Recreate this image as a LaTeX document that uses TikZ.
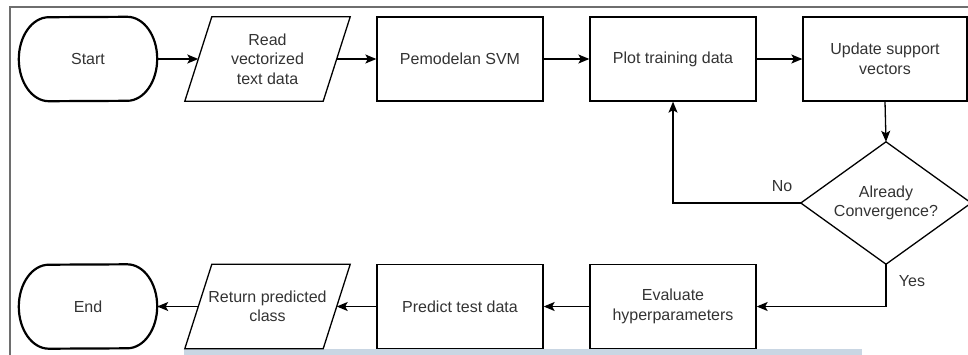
\documentclass[tikz,border=0pt]{standalone}
\usepackage{fontspec}
\setmainfont{Liberation Sans}
\usetikzlibrary{arrows.meta}
\definecolor{txt}{HTML}{333333}
\definecolor{framegray}{HTML}{6E6E6E}
\definecolor{stripblue}{HTML}{C9D6E3}
\newcommand\stadiumshape[1]{%
  \draw[termline] ([xshift=-30pt]#1.north east)
    arc[start angle=90,end angle=-90,x radius=30pt,y radius=42pt]
    -- ([xshift=30pt]#1.south west)
    arc[start angle=-90,end angle=-270,x radius=30pt,y radius=42pt] -- cycle;}
\newcommand\slantshape[1]{%
  \draw[shapeline] ([xshift=13.5pt]#1.north west) -- ([xshift=13.5pt]#1.north east)
    -- ([xshift=-13.5pt]#1.south east) -- ([xshift=-13.5pt]#1.south west) -- cycle;}
\begin{document}
\begin{tikzpicture}[x=1pt,y=-1pt,
  base/.style={font=\fontsize{16}{19.5}\selectfont, text=txt, align=center,
               inner sep=0pt, minimum height=84pt},
  procbox/.style={base, draw, line width=1.3pt, minimum width=166pt},
  termbox/.style={base, minimum width=138pt},
  iobox/.style={base, minimum width=138pt},
  decbox/.style={base, minimum width=170pt, minimum height=122pt},
  shapeline/.style={line width=1.3pt},
  termline/.style={line width=2.2pt},
  flow/.style={line width=1.3pt, -{Stealth[length=11pt,width=9pt,inset=2.5pt]}},
  lbl/.style={font=\fontsize{16}{19.5}\selectfont, text=txt, inner sep=0pt}]
\useasboundingbox (0,0) rectangle (968,354);
\clip (0,0) rectangle (968,354);
% frame and strip
\draw[framegray, line width=1.5pt] (10,400) -- (10,7) -- (1000,7);
\fill[stripblue] (184,349) rectangle (862,360);
% top row
\node[termbox] (start) at (88,59) {Start};
\stadiumshape{start}
\node[iobox] (read) at (267.5,59) {Read\\vectorized\\text data};
\slantshape{read}
\node[procbox] (svm) at (460,59) {Pemodelan SVM};
\node[procbox] (plot) at (673,59) {Plot training data};
\node[procbox, minimum width=164pt] (update) at (885,59) {Update support\\vectors};
% decision
\node[decbox] (conv) at (886,203) {Already\\Convergence?};
\draw[shapeline] (conv.north) -- (conv.east) -- (conv.south) -- (conv.west) -- cycle;
% bottom row
\node[termbox] (end) at (88,306.5) {End};
\stadiumshape{end}
\node[iobox] (ret) at (267.5,306.5) {Return predicted\\class};
\slantshape{ret}
\node[procbox] (pred) at (460,306.5) {Predict test data};
\node[procbox] (eval) at (673,306.5) {Evaluate\\hyperparameters};
% connectors
\draw[flow] (start.east) -- (read.west);
\draw[flow] (read.east) -- (svm.west);
\draw[flow] (svm.east) -- (plot.west);
\draw[flow] (plot.east) -- (update.west);
\draw[flow] (update.south) -- (conv.north);
\draw[flow] (conv.west) -| (plot.south);
\draw[flow] (conv.south) |- (eval.east);
\draw[flow] (eval.west) -- (pred.east);
\draw[flow] (pred.west) -- (ret.east);
\draw[flow] (ret.west) -- (end.east);
% labels
\node[lbl] (nolbl) at (782,186) {No};
\node[lbl] (yeslbl) at (912,281) {Yes};
\end{tikzpicture}
\end{document}
